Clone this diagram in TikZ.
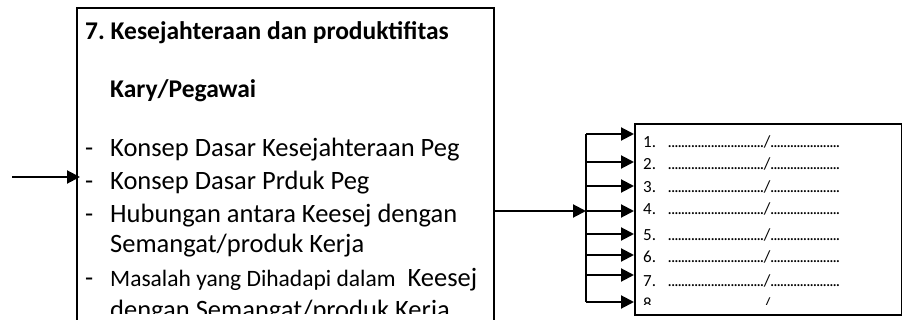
\documentclass[tikz,border=0pt]{standalone}
\usepackage{fontspec}
\setmainfont{Carlito}
\usetikzlibrary{arrows.meta}
\frenchspacing
\newcommand\dotrow[1]{\makebox[#1]{\leaders\hbox to 3.3pt{\hss.\hss}\hfill}}
\begin{document}
\begin{tikzpicture}[x=1pt,y=-1pt,
  box/.style={draw,line width=1.6pt,inner sep=0pt},
  arr/.style={line width=2pt,-{Triangle[length=13pt,width=13pt]}},
  big/.style={anchor=base west,inner sep=0pt,font=\fontsize{26.5}{30}\selectfont},
  bigb/.style={big,font=\fontsize{25.5}{30}\selectfont\bfseries},
  bulletdash/.style={big},
  small/.style={anchor=base west,inner sep=0pt,font=\fontsize{17}{20}\selectfont}]
\useasboundingbox (0,0) rectangle (902,320);
\clip (0,0) rectangle (902,320);
% boxes
\node[box,anchor=north west,minimum width=417pt,minimum height=340pt] (L) at (76,7) {};
\node[box,anchor=north west,minimum width=267pt,minimum height=191pt] (R) at (634,123) {};
% left box text
\begin{scope}
\clip (78,9) rectangle (491,313);
\node[bigb] (t1) at (85,40) {7. Kesejahteraan dan produktifitas};
\node[bigb] (t2) at (110,98) {Kary/Pegawai};
\node[bulletdash] (d1) at (85,157) {-};
\node[big] (l1) at (110,157) {Konsep Dasar Kesejahteraan Peg};
\node[bulletdash] (d2) at (85,190) {-};
\node[big] (l2) at (110,190) {Konsep Dasar Prduk Peg};
\node[bulletdash] (d3) at (85,223) {-};
\node[big] (l3) at (110,223) {Hubungan antara Keesej dengan};
\node[big] (l4) at (110,253) {Semangat/produk Kerja};
\node[bulletdash] (d4) at (85,287) {-};
\node[big] (l5) at (110,287) {{\fontsize{23.5}{28}\selectfont Masalah yang Dihadapi dalam}\ \ Keesej};
\node[big] (l6) at (110,318) {dengan Semangat/produk Kerja};
\end{scope}
% right box text
\begin{scope}
\clip (636,125) rectangle (899,305);
\foreach \n/\yy in {1/148,2/170,3/193,4/215,5/241,6/263,7/287,8/309}{
  \node[small] (r\n) at (643,\yy) {\makebox[25pt][l]{\n.}\dotrow{96pt}/\dotrow{70pt}};
}
\end{scope}
% connectors
\coordinate (in) at (12,177);
\draw[arr,shorten >=-4pt] (in) -- (L.west |- in);
\coordinate (j) at (586,211);
\draw[arr] (L.east |- j) -- (j);
\coordinate (btop) at (586,134);
\coordinate (bbot) at (586,302);
\draw[line width=2pt] (btop) -- (bbot);
\foreach \yy [count=\i] in {134,162,186,211,234,255,275,302}{
  \coordinate (b\i) at (586,\yy);
  \draw[arr] (b\i) -- (R.west |- b\i);
}
\end{tikzpicture}
\end{document}
